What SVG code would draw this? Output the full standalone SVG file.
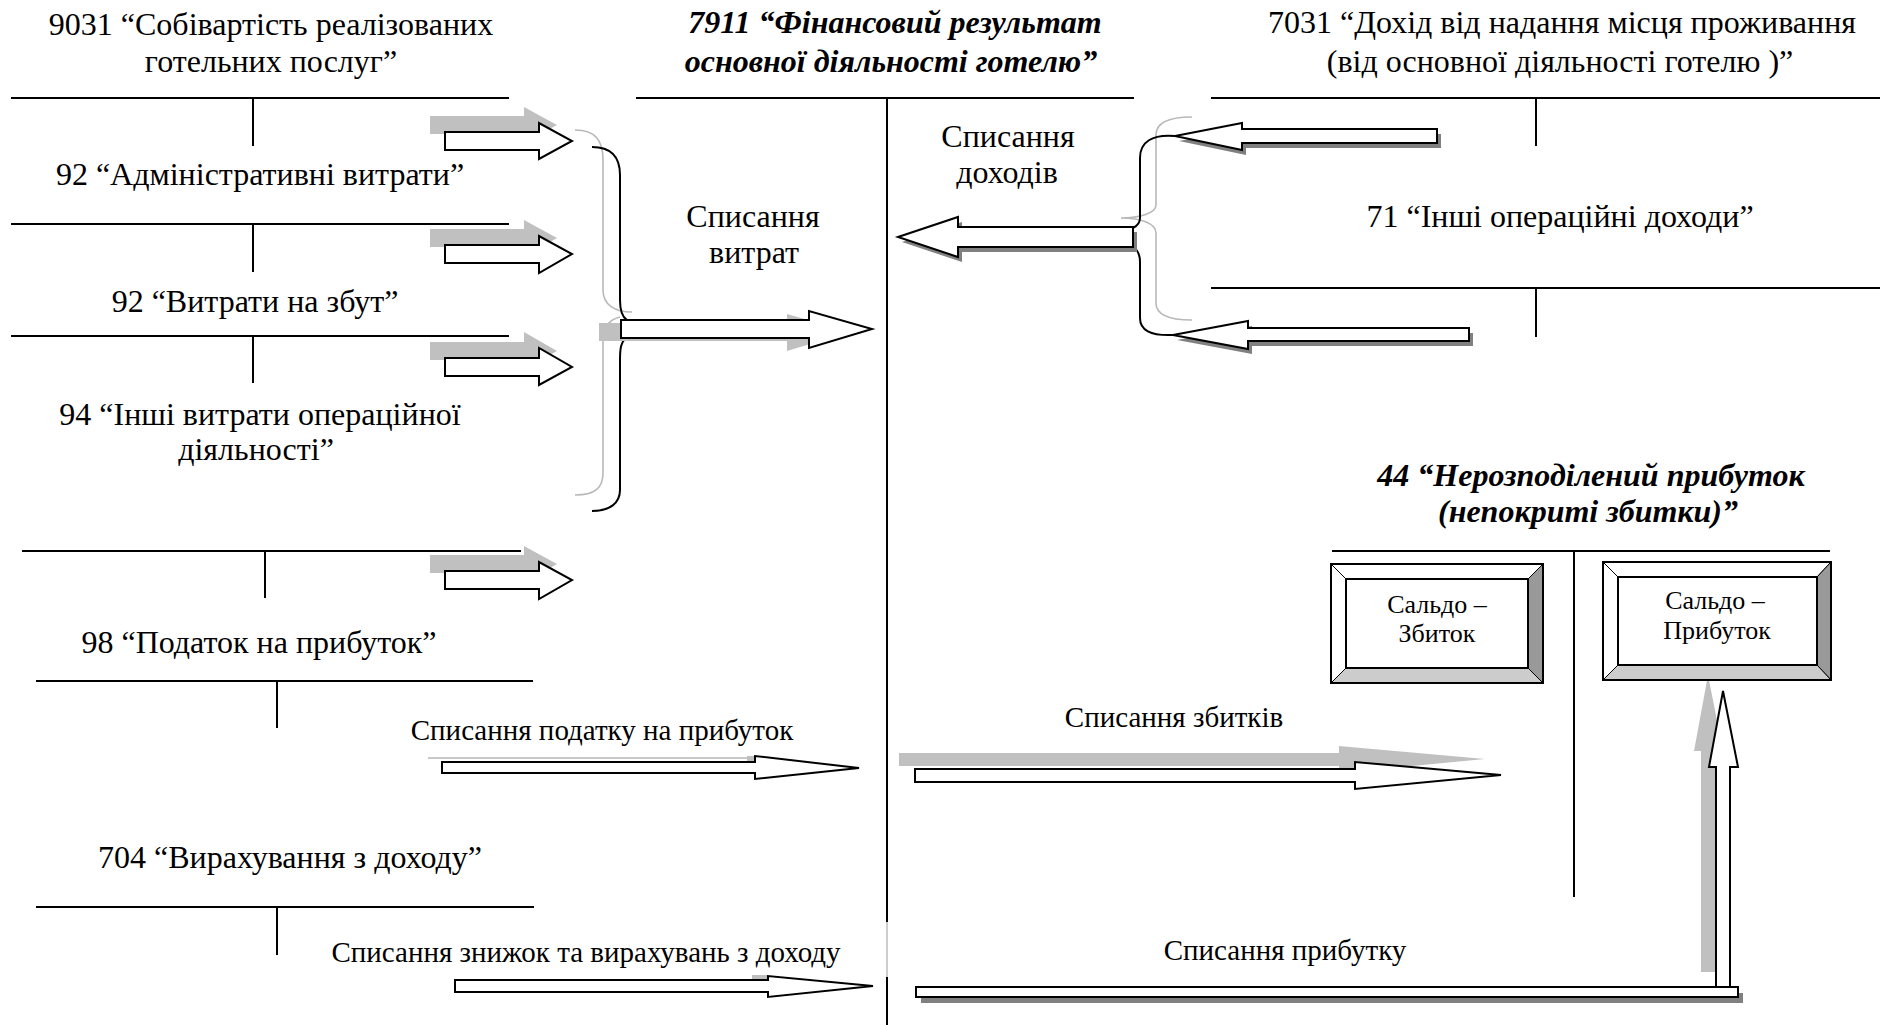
<svg xmlns="http://www.w3.org/2000/svg" xmlns:xlink="http://www.w3.org/1999/xlink" width="1881" height="1025" viewBox="0 0 1881 1025">
<style>
text{font-family:"Liberation Serif","Times New Roman",serif;fill:#000;text-anchor:middle}
.t{font-size:32px}
.ti{font-size:32px;font-weight:bold;font-style:italic}
.s{font-size:29px}
.b{font-size:26px}
.ln{stroke:#000;stroke-width:2;fill:none}
.arr{fill:#fff;stroke:#000;stroke-width:2;stroke-linejoin:miter}
.sh{fill:#c0c0c0;stroke:none}
.dsh{fill:#808080;stroke:none}
.br{fill:none;stroke:#000;stroke-width:2}
.gbr{fill:none;stroke:#b8b8b8;stroke-width:1.6}
.bv{stroke:#000;stroke-width:1}
</style>
<defs>
<polygon id="a1" points="445,132 539,132 539,123 572,141 539,159 539,150 445,150"/>
<polygon id="a2" points="445,245 539,245 539,236 572,254 539,273 539,263 445,263"/>
<polygon id="a3" points="445,358 539,358 539,348 572,367 539,385 539,376 445,376"/>
<polygon id="a4" points="445,571 539,571 539,562 572,580 539,599 539,589 445,589"/>
<polygon id="aBig" points="621,320 809,320 809,311 872,329 809,348 809,338 621,338"/>
<polygon id="aInc" points="898,237 958,217 958,227 1133,227 1133,247 958,247 958,257"/>
<polygon id="aR1" points="1175,136 1242,123 1242,129 1437,129 1437,143 1242,143 1242,150"/>
<polygon id="aR2" points="1173,335 1248,321 1248,328 1469,328 1469,341 1248,341 1248,349"/>
<polygon id="aTax" points="442,762 755,762 755,756 859,768 755,779 755,773 442,773"/>
<polygon id="aDed" points="455,980 768,980 768,976 873,986 768,997 768,992 455,992"/>
<polygon id="aLoss" points="915,769 1355,769 1355,762 1501,775 1355,789 1355,782 915,782"/>
<polygon id="aUp" points="1716,988 1716,767 1709,767 1723,691 1738,767 1730,767 1730,988"/>
<rect id="bar" x="916" y="987" width="822" height="10"/>
</defs>

<g id="acc-9031">
<text class="t" x="271" y="35">9031 “Собівартість реалізованих</text>
<text class="t" x="271" y="72">готельних послуг”</text>
<line class="ln" x1="11" y1="98" x2="509" y2="98"/>
<line class="ln" x1="253" y1="98" x2="253" y2="146"/>
</g>
<g id="acc-92-admin">
<text class="t" x="260" y="185">92 “Адміністративні витрати”</text>
<line class="ln" x1="11" y1="224" x2="509" y2="224"/>
<line class="ln" x1="253" y1="224" x2="253" y2="272"/>
</g>
<g id="acc-92-sales">
<text class="t" x="255" y="312">92 “Витрати на збут”</text>
<line class="ln" x1="11" y1="336" x2="509" y2="336"/>
<line class="ln" x1="253" y1="336" x2="253" y2="383"/>
</g>
<g id="acc-94">
<text class="t" x="260" y="425">94 “Інші витрати операційної</text>
<text class="t" x="256" y="460">діяльності”</text>
<line class="ln" x1="22" y1="551" x2="521" y2="551"/>
<line class="ln" x1="265" y1="551" x2="265" y2="598"/>
</g>
<g id="acc-98">
<text class="t" x="259" y="653">98 “Податок на прибуток”</text>
<line class="ln" x1="36" y1="681" x2="533" y2="681"/>
<line class="ln" x1="277" y1="681" x2="277" y2="728"/>
</g>
<g id="acc-704">
<text class="t" x="290" y="868">704 “Вирахування з доходу”</text>
<line class="ln" x1="36" y1="907" x2="534" y2="907"/>
<line class="ln" x1="277" y1="907" x2="277" y2="955"/>
</g>
<g id="acc-7911">
<text class="ti" x="895" y="33">7911 “Фінансовий результат</text>
<text class="ti" x="891" y="72">основної діяльності готелю”</text>
<line class="ln" x1="636" y1="98" x2="1134" y2="98"/>
<line class="ln" x1="887" y1="98" x2="887" y2="922"/>
<line x1="887" y1="922" x2="887" y2="977" stroke="#999" stroke-width="1"/>
<line class="ln" x1="887" y1="977" x2="887" y2="1025"/>
</g>
<g id="acc-7031">
<text class="t" x="1562" y="33">7031 “Дохід від надання місця проживання</text>
<text class="t" x="1560" y="72">(від основної діяльності готелю )”</text>
<line class="ln" x1="1211" y1="98" x2="1880" y2="98"/>
<line class="ln" x1="1536" y1="98" x2="1536" y2="146"/>
</g>
<g id="acc-71">
<text class="t" x="1560" y="227">71 “Інші операційні доходи”</text>
<line class="ln" x1="1211" y1="288" x2="1880" y2="288"/>
<line class="ln" x1="1536" y1="288" x2="1536" y2="337"/>
</g>
<g id="acc-44">
<text class="ti" x="1591" y="486">44 “Нерозподілений прибуток</text>
<text class="ti" x="1588" y="522">(непокриті збитки)”</text>
<line class="ln" x1="1332" y1="551" x2="1830" y2="551"/>
<line class="ln" x1="1574" y1="551" x2="1574" y2="897"/>
</g>

<g id="connectors">
<path class="gbr" d="M575,130 C595,130 603,140 603,160 L603,290 C603,305 615,312 632,312 M620,317 C608,320 603,328 603,343 L603,473 C603,488 595,495 575,495"/>
<path class="br" d="M592,147 C610,147 620,156 620,175 L620,300 C620,311 622,317 627,320 M626,338 C621,342 620,348 620,360 L620,490 C620,503 610,511 592,511"/>
<path class="gbr" d="M1192,117 C1170,117 1156,122 1156,135 L1156,205 C1156,213 1140,218 1121,218 C1140,218 1156,223 1156,233 L1156,303 C1156,315 1170,320 1192,320"/>
<path class="br" d="M1175,136 C1152,134 1140,142 1140,158 L1140,218 C1140,223 1137,226 1133,228 M1133,247 C1138,250 1140,255 1140,262 L1140,318 C1140,330 1150,336 1173,335"/>

<use xlink:href="#a1" class="sh" transform="translate(-15,-16)"/>
<use xlink:href="#a2" class="sh" transform="translate(-15,-16)"/>
<use xlink:href="#a3" class="sh" transform="translate(-15,-16)"/>
<use xlink:href="#a4" class="sh" transform="translate(-15,-16)"/>
<use xlink:href="#a1" class="arr"/>
<use xlink:href="#a2" class="arr"/>
<use xlink:href="#a3" class="arr"/>
<use xlink:href="#a4" class="arr"/>

<use xlink:href="#aBig" class="sh" transform="translate(-22,3)"/>
<use xlink:href="#aBig" class="arr"/>
<text class="t" x="753" y="227">Списання</text>
<text class="t" x="754" y="263">витрат</text>

<use xlink:href="#aInc" class="dsh" transform="translate(4,5)"/>
<use xlink:href="#aInc" class="arr"/>
<use xlink:href="#aR1" class="dsh" transform="translate(4,5)"/>
<use xlink:href="#aR1" class="arr"/>
<use xlink:href="#aR2" class="dsh" transform="translate(4,5)"/>
<use xlink:href="#aR2" class="arr"/>
<text class="t" x="1008" y="147">Списання</text>
<text class="t" x="1007" y="183">доходів</text>

<line x1="428" y1="758" x2="755" y2="758" stroke="#c8c8c8" stroke-width="2"/>
<rect x="747" y="756" width="9" height="6" fill="#c0c0c0"/>
<use xlink:href="#aTax" class="arr"/>
<text class="s" x="602" y="740">Списання податку на прибуток</text>
<rect x="752" y="975" width="16" height="5" fill="#c0c0c0"/>
<use xlink:href="#aDed" class="arr"/>
<text class="s" x="586" y="962">Списання знижок та вирахувань з доходу</text>

<use xlink:href="#aLoss" class="sh" transform="translate(-16,-16)"/>
<use xlink:href="#aLoss" class="arr"/>
<text class="s" x="1174" y="727">Списання збитків</text>

<use xlink:href="#aUp" class="sh" transform="translate(-15,-16)"/>
<use xlink:href="#aUp" class="arr"/>
<use xlink:href="#bar" class="dsh" transform="translate(5,6)"/>
<use xlink:href="#bar" class="arr"/>
<text class="s" x="1285" y="960">Списання прибутку</text>
</g>

<g id="box-loss">
<polygon class="bv" fill="#fff" points="1331,564 1543,564 1528,579 1346,579"/>
<polygon class="bv" fill="#fff" points="1331,564 1346,579 1346,668 1331,683"/>
<polygon class="bv" fill="#999" points="1543,564 1543,683 1528,668 1528,579"/>
<polygon class="bv" fill="#ccc" points="1331,683 1346,668 1528,668 1543,683"/>
<rect x="1346" y="579" width="182" height="89" fill="#fff" stroke="#000" stroke-width="2"/>
<rect x="1331" y="564" width="212" height="119" fill="none" stroke="#000" stroke-width="2"/>
<text class="b" x="1437" y="613">Сальдо –</text>
<text class="b" x="1437" y="642">Збиток</text>
</g>
<g id="box-profit">
<polygon class="bv" fill="#fff" points="1603,562 1831,562 1817,577 1618,577"/>
<polygon class="bv" fill="#fff" points="1603,562 1618,577 1618,665 1603,680"/>
<polygon class="bv" fill="#999" points="1831,562 1831,680 1817,665 1817,577"/>
<polygon class="bv" fill="#ccc" points="1603,680 1618,665 1817,665 1831,680"/>
<rect x="1618" y="577" width="199" height="88" fill="#fff" stroke="#000" stroke-width="2"/>
<rect x="1603" y="562" width="228" height="118" fill="none" stroke="#000" stroke-width="2"/>
<text class="b" x="1715" y="609">Сальдо –</text>
<text class="b" x="1717" y="639">Прибуток</text>
</g>
</svg>
